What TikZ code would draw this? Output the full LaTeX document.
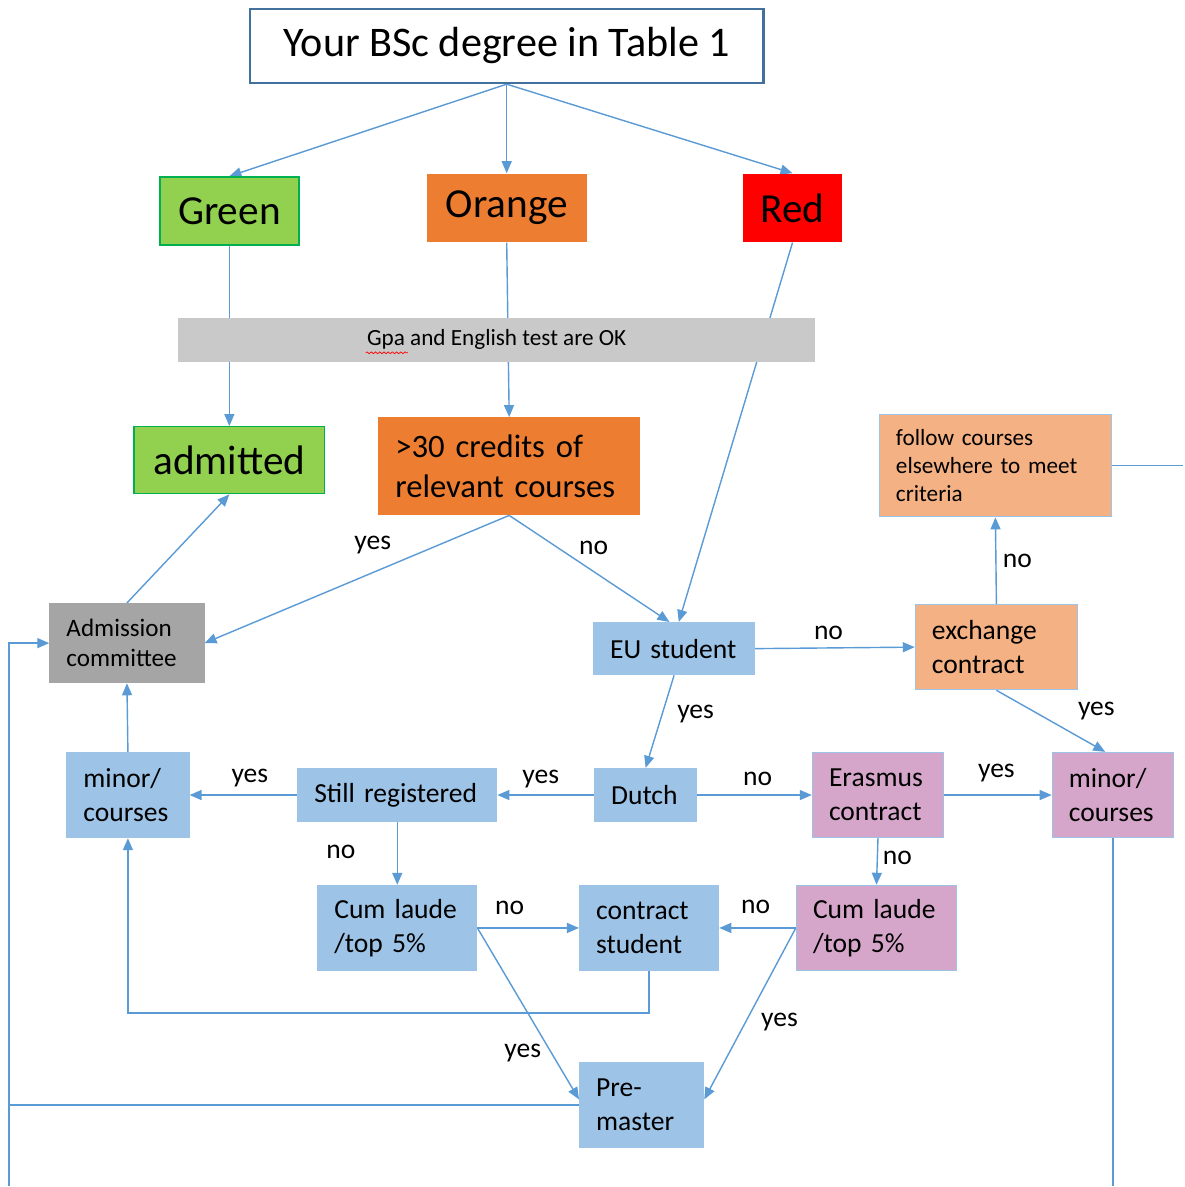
\documentclass[tikz,border=0pt]{standalone}
\usepackage{fontspec}
\setmainfont{Carlito}
\usetikzlibrary{arrows.meta,backgrounds,decorations.pathmorphing}
\definecolor{lineblue}{HTML}{5B9BD5}
\definecolor{boxblue}{HTML}{9DC3E6}
\definecolor{titleblue}{HTML}{41719C}
\definecolor{grn}{HTML}{92D050}
\definecolor{grnline}{HTML}{00B050}
\definecolor{orng}{HTML}{ED7D31}
\definecolor{lorng}{HTML}{F4B183}
\definecolor{pinkbox}{HTML}{D5A6C9}
\definecolor{gpagray}{HTML}{C9C9C9}
\definecolor{admgray}{HTML}{A5A5A5}

\tikzset{
  line/.style={draw=lineblue, line width=0.8pt},
  arr/.style={line, -{Triangle[length=0.24cm,width=0.2cm]}},
  lbl/.style={font=\fontsize{15.7}{19}\selectfont, inner sep=0pt},
  colbox/.style={font=\fontsize{23.5}{28}\selectfont, minimum height=1.36cm, inner sep=0pt, line width=0.8pt},
  box/.style={draw=boxblue, line width=0.8pt, inner xsep=0.33cm, inner ysep=0pt, align=left,
    font=\fontsize{15.7}{19.2}\selectfont}
}

\begin{document}
\begin{tikzpicture}[x=0.02cm, y=-0.02cm]
	% top row
	\node[colbox, draw=titleblue, line width=1.4pt, fill=white, minimum width=10.28cm, minimum height=1.48cm, font=\fontsize{24}{29}\selectfont] (degree) at (507,46) {Your BSc degree in Table 1};
	\node[colbox, fill=grn, draw=grnline, minimum width=2.78cm] (green) at (229.5,211) {Green};
	\node[colbox, fill=orng, minimum width=3.2cm] (orange) at (507,208) {Orange};
	\node[colbox, fill=red, minimum width=2cm] (red) at (793,208) {Red};
	\node[fill=gpagray, minimum width=12.76cm, minimum height=0.88cm, inner sep=0pt, font=\fontsize{13.2}{16}\selectfont] (gpa) at (497,340) {Gpa and English test are OK};
	\draw[red, decorate, decoration={snake, amplitude=0.5pt, segment length=2.4pt}] (366,353) -- (408,353);

	% second row
	\node[colbox, fill=grn, draw=grnline, minimum width=3.82cm, minimum height=1.34cm] (admitted) at (229.5,460.5) {admitted};
	\node[box, fill=orng, draw=orng, font=\fontsize{18.6}{22.7}\selectfont, text width=4.56cm, minimum height=1.94cm] (credits) at (509.5,466.5) {>30 credits of\\relevant courses};
	\node[box, fill=lorng, font=\fontsize{13.2}{16}\selectfont, text width=3.98cm, minimum height=2.04cm] (follow) at (996,466) {follow courses\\elsewhere to meet\\criteria};

	\node[box, fill=admgray, draw=admgray, font=\fontsize{14.3}{17}\selectfont, text width=2.42cm, minimum height=1.58cm] (committee) at (127,643.5) {Admission\\committee};
	\node[box, fill=boxblue, text width=2.56cm, minimum height=1.04cm] (eu) at (674.5,649) {EU student};
	\node[box, fill=lorng, text width=2.58cm, minimum height=1.7cm] (exchange) at (997,647.5) {exchange\\contract};

	\node[box, fill=boxblue, text width=1.78cm, minimum height=1.7cm] (minorL) at (128,795.5) {minor/\\courses};
	\node[box, fill=boxblue, text width=3.32cm, minimum height=1.06cm] (still) at (397.5,795.5) {Still registered};
	\node[box, fill=boxblue, text width=1.38cm, minimum height=1.06cm] (dutch) at (646,795.5) {Dutch};
	\node[box, fill=pinkbox, text width=1.96cm, minimum height=1.7cm] (erasmus) at (878.5,795.5) {Erasmus\\contract};
	\node[box, fill=pinkbox, text width=1.76cm, minimum height=1.7cm] (minorR) at (1113.5,795.5) {minor/\\courses};

	\node[box, fill=boxblue, text width=2.52cm, minimum height=1.7cm] (cumL) at (397.5,928.5) {Cum laude\\/top 5\%};
	\node[box, fill=boxblue, text width=2.12cm, minimum height=1.7cm] (contract) at (649.5,928.5) {contract\\student};
	\node[box, fill=pinkbox, text width=2.54cm, minimum height=1.7cm] (cumR) at (877,928.5) {Cum laude\\/top 5\%};
	\node[box, fill=boxblue, text width=1.82cm, minimum height=1.7cm] (premaster) at (642,1105.5) {Pre-\\master};

	\coordinate (edgeR) at (1184,466);
	\coordinate (rail) at (9,1187);

	\begin{scope}[on background layer]
		\fill[white] (0,0) rectangle (1184,1187);
		\draw[arr] (degree.south) -- (green.north);
		\draw[arr] (degree.south) -- (orange.north);
		\draw[arr] (degree.south) -- (red.north);
		\draw[arr] (green.south) -- (admitted.north);
		\draw[arr] (orange.south) -- (credits.north);
		\draw[arr] (red.south) -- (eu.80);

		\draw[arr] (credits.south) -- (committee.east) node[lbl] (l1) at (373,545) {yes};
		\draw[arr] (credits.south) -- (eu.100) node[lbl] (l2) at (594,548) {no};
		\draw[arr] (committee.north) -- (admitted.south);
		\draw[arr] (eu.east) -- (exchange.west) node[lbl] (l3) at (829,633) {no};
		\draw[arr] (exchange.north) -- (follow.south) node[lbl] (l4) at (1018,561) {no};
		\draw[line] (follow.east) -- (edgeR);
		\draw[arr] (exchange.south) -- (minorR.100) node[lbl] (l5) at (1097,711) {yes};
		\draw[arr] (eu.south) -- (dutch.north) node[lbl] (l6) at (696,714) {yes};

		\draw[arr] (dutch.west) -- (still.east) node[lbl] (l7) at (541,779) {yes};
		\draw[arr] (still.west) -- (minorL.east) node[lbl] (l8) at (250,778) {yes};
		\draw[arr] (minorL.north) -- (committee.south);
		\draw[arr] (dutch.east) -- (erasmus.west) node[lbl] (l9) at (758,779) {no};
		\draw[arr] (erasmus.east) -- (minorR.west) node[lbl] (l10) at (997,773) {yes};
		\draw[arr] (erasmus.south) -- (cumR.north) node[lbl] (l11) at (898,858) {no};
		\draw[arr] (still.south) -- (cumL.north) node[lbl] (l12) at (341,852) {no};

		\draw[arr] (cumL.east) -- (contract.west) node[lbl] (l13) at (510,908) {no};
		\draw[arr] (cumL.east) -- (premaster.175) node[lbl] (l14) at (523,1054) {yes};
		\draw[arr] (cumR.west) -- (contract.east) node[lbl] (l15) at (756,907) {no};
		\draw[arr] (cumR.west) -- (premaster.5) node[lbl] (l16) at (780,1023) {yes};
		\draw[arr] (contract.south) -- ++(0,42) -| (minorL.south);

		\draw[line] (premaster.west) -- (premaster.west -| rail);
		\draw[arr] (rail) |- (committee.west);
		\draw[line] (minorR.south) -- (minorR.south |- rail);
	\end{scope}
\end{tikzpicture}
\end{document}
